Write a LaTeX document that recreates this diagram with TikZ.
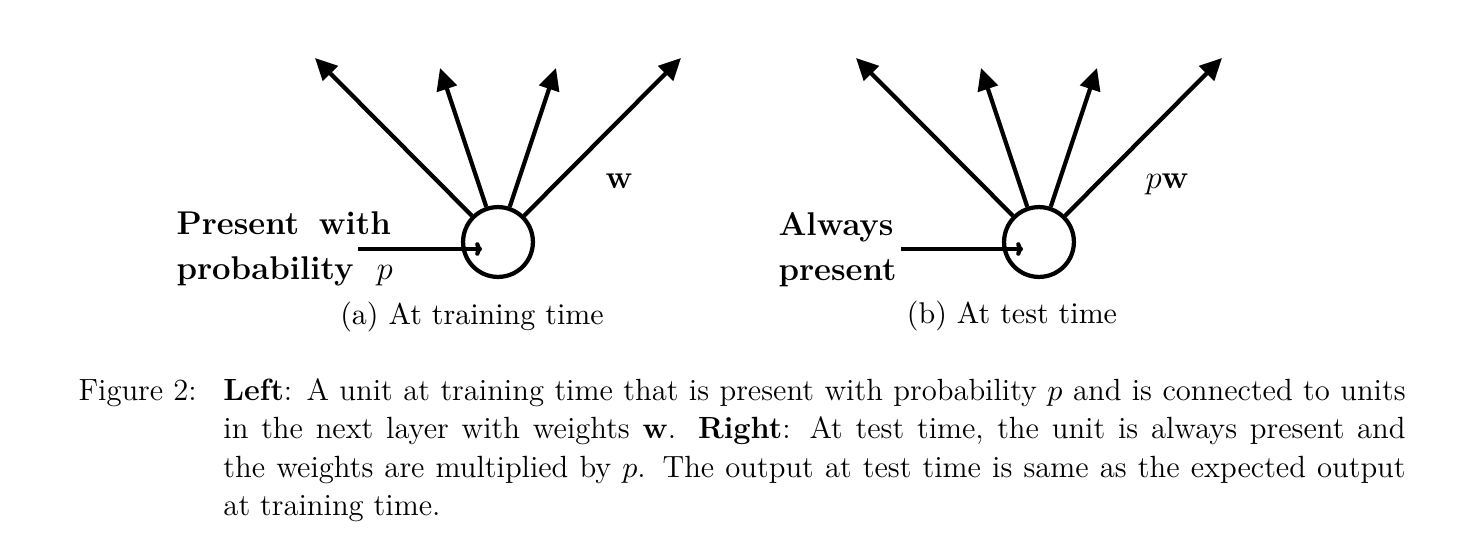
\documentclass[tikz,border=0pt,11pt]{standalone}
\usetikzlibrary{arrows.meta,positioning}

\begin{document}
\begin{tikzpicture}[
    x=0.365pt, y=-0.365pt,
    unit/.style = {circle, draw, minimum size=25.5pt, inner sep=0pt, line width=1.55pt},
    conn/.style = {-{Triangle[length=8pt,width=7.5pt]}, line width=1.55pt},
    feed/.style = {-{To[length=2.5pt,width=5pt]}, line width=1.55pt},
    lbl/.style  = {font=\large\bfseries, align=left, inner sep=0pt, anchor=north west},
    sub/.style  = {inner sep=0pt, anchor=base}
]
\useasboundingbox (0,0) rectangle (1476,532);

% (a) training time
\node[unit] (ua) at (498,242) {};
\coordinate (ua1) at (315,58);
\coordinate (ua2) at (440,68);
\coordinate (ua3) at (556,68);
\coordinate (ua4) at (681,58);
\coordinate (ina) at (358,249);
\coordinate (ena) at (482,249);

\draw[conn] (ua) -- (ua1);
\draw[conn] (ua) -- (ua2);
\draw[conn] (ua) -- (ua3);
\draw[conn] (ua) -- (ua4);
\draw[feed] (ina) -- (ena);

\node[lbl] (pa) at (176,211) {Present\hspace{0.6em}with\\[2.3pt]probability\hspace{0.7em}$p$};
\node[anchor=base west, inner sep=0pt] (wa) at (605,188) {\large$\mathbf{w}$};
\node[sub] (capa) at (472,324) {(a) At training time};

% (b) test time
\node[unit] (ub) at (1039,242) {};
\coordinate (ub1) at (856,58);
\coordinate (ub2) at (981,68);
\coordinate (ub3) at (1097,68);
\coordinate (ub4) at (1222,58);
\coordinate (inb) at (901,249);
\coordinate (enb) at (1023,249);

\draw[conn] (ub) -- (ub1);
\draw[conn] (ub) -- (ub2);
\draw[conn] (ub) -- (ub3);
\draw[conn] (ub) -- (ub4);
\draw[feed] (inb) -- (enb);

\node[lbl] (pb) at (778,212) {Always\\[2.3pt]present};
\node[anchor=base west, inner sep=0pt] (wb) at (1145,188) {\large$p\mathbf{w}$};
\node[sub] (capb) at (1012,323) {(b) At test time};

% caption
\node[anchor=north west, inner sep=0pt] (fig) at (78,378)
  {\parbox[t]{484.4pt}{\fontsize{11.2pt}{14pt}\selectfont
   \hangindent=52.9pt\hangafter=1\makebox[52.9pt][l]{Figure 2:}\textbf{Left}: A unit at training time that is present with probability $p$ and is connected to units in the next layer with weights $\mathbf{w}$. \textbf{Right}: At test time, the unit is always present and\linebreak{} the weights are multiplied by $p$. The output at test time is same as the expected output\linebreak{} at training time.}};

\end{tikzpicture}
\end{document}
